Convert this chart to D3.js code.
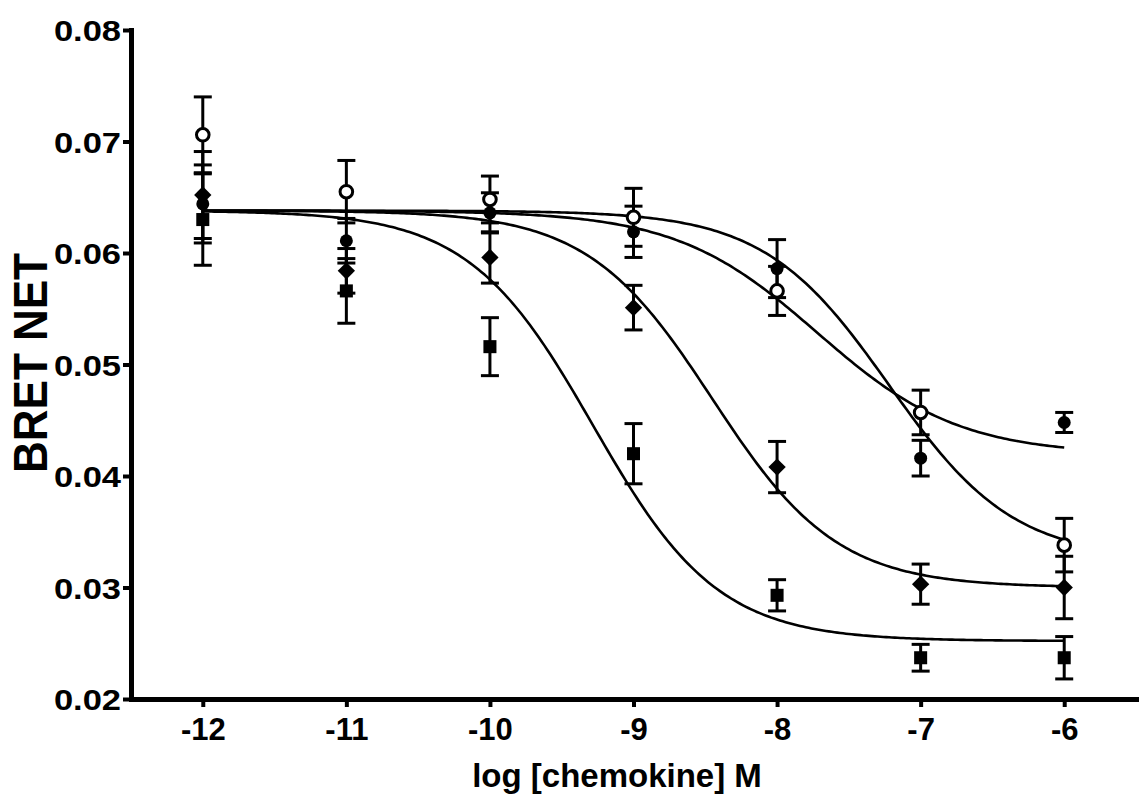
<!DOCTYPE html>
<html>
<head>
<meta charset="utf-8">
<script src="https://cdn.jsdelivr.net/npm/d3@7"></script>
<style>
  body { margin: 0; background: #fff; }
  svg { display: block; }
  text { font-family: "Liberation Sans", Arial, sans-serif; font-weight: bold; fill: #000; }
</style>
</head>
<body>
<svg width="1146" height="800"></svg>
<script>
// log concentrations (x) and the tick labels
const logConc = [-12, -11, -10, -9, -8, -7, -6];
const yTicks = [0.02, 0.03, 0.04, 0.05, 0.06, 0.07, 0.08];

// mean and SEM for each series
const openMean = [0.0706, 0.0655, 0.0648, 0.0632, 0.0566, 0.0457, 0.0338];
const openSem = [0.0034, 0.0028, 0.0021, 0.0026, 0.0022, 0.0020, 0.0024];
const filledMean = [0.0644, 0.0611, 0.0636, 0.0619, 0.0586, 0.0416, 0.0448];
const filledSem = [0.0035, 0.0020, 0.0018, 0.0023, 0.0026, 0.0016, 0.0009];
const diamondMean = [0.0652, 0.0584, 0.0596, 0.0551, 0.0408, 0.0303, 0.0300];
const diamondSem = [0.0039, 0.0020, 0.0023, 0.0020, 0.0023, 0.0018, 0.0028];
const squareMean = [0.0630, 0.0566, 0.0516, 0.0420, 0.0293, 0.0237, 0.0237];
const squareSem = [0.0041, 0.0029, 0.0026, 0.0027, 0.0014, 0.0012, 0.0019];

// sigmoid fit parameters: open, filled, diamond, square
const fitTop = [0.0638, 0.0638, 0.0638, 0.0638];
const fitBottom = [0.0325, 0.0419, 0.0300, 0.0252];
const fitLogIC50 = [-7.22, -7.72, -8.45, -9.28];
const fitHill = [1.0, 0.88, 1, 1];

const svg = d3.select("svg");

const x = d3.scaleLinear().domain([-12.5, -5.5]).range([131, 1136]);
const y = d3.scaleLinear().domain([0.02, 0.08]).range([699, 30]);

// fitted curves
const curveX = d3.range(-12, -5.999, 0.02);
const line = d3.line().x(d => x(d[0])).y(d => y(d[1]));
fitTop.forEach((top, i) => {
  const pts = curveX.map(v => [v, fitBottom[i] + (top - fitBottom[i]) / (1 + Math.pow(10, fitHill[i] * (v - fitLogIC50[i])))]);
  svg.append("path")
     .attr("d", line(pts))
     .attr("fill", "none")
     .attr("stroke", "#000")
     .attr("stroke-width", 2.6);
});

const series = [
  { mean: squareMean, sem: squareSem, shape: "square" },
  { mean: diamondMean, sem: diamondSem, shape: "diamond" },
  { mean: filledMean, sem: filledSem, shape: "filled" },
  { mean: openMean, sem: openSem, shape: "open" }
];

// error bars
series.forEach(s => {
  const g = svg.append("g").attr("stroke", "#000").attr("stroke-width", 3);
  logConc.forEach((c, i) => {
    const top = y(s.mean[i] + s.sem[i]), bot = y(s.mean[i] - s.sem[i]), cx = x(c);
    g.append("line").attr("x1", cx).attr("x2", cx).attr("y1", top).attr("y2", bot);
    g.append("line").attr("x1", cx - 9).attr("x2", cx + 9).attr("y1", top).attr("y2", top);
    g.append("line").attr("x1", cx - 9).attr("x2", cx + 9).attr("y1", bot).attr("y2", bot);
  });
});

// markers
series.forEach(s => {
  const g = svg.append("g");
  logConc.forEach((c, i) => {
    const cx = x(c), cy = y(s.mean[i]);
    if (s.shape === "square") {
      g.append("path").attr("d", d3.symbol(d3.symbolSquare, 170)())
       .attr("transform", `translate(${cx},${cy})`).attr("fill", "#000");
    } else if (s.shape === "diamond") {
      g.append("path").attr("d", d3.symbol(d3.symbolSquare, 150)())
       .attr("transform", `translate(${cx},${cy}) rotate(45)`).attr("fill", "#000");
    } else if (s.shape === "filled") {
      g.append("circle").attr("cx", cx).attr("cy", cy).attr("r", 6.5).attr("fill", "#000");
    } else {
      g.append("circle").attr("cx", cx).attr("cy", cy).attr("r", 6.3)
       .attr("fill", "#fff").attr("stroke", "#000").attr("stroke-width", 3);
    }
  });
});

// axes
const yAxis = svg.append("g")
  .attr("transform", "translate(131,0)")
  .call(d3.axisLeft(y).tickValues(yTicks).tickFormat(d3.format(".2f")).tickSize(8).tickSizeOuter(0).tickPadding(3));
const xAxis = svg.append("g")
  .attr("transform", "translate(0,699)")
  .call(d3.axisBottom(x).tickValues(logConc).tickFormat(d => d3.format("d")(d).replace("\u2212", "-")).tickSize(8).tickSizeOuter(0).tickPadding(8));

[yAxis, xAxis].forEach(a => {
  a.select(".domain").attr("stroke", "#000").attr("stroke-width", 5).attr("stroke-linecap", "square");
  a.selectAll(".tick line").attr("stroke", "#000").attr("stroke-width", 4);
});
yAxis.selectAll(".tick text").style("font-size", "30px").attr("dy", "0.36em")
  .attr("transform", "scale(1.15,1)").attr("x", -10 / 1.15);
xAxis.selectAll(".tick text").style("font-size", "31px").attr("dy", "0.8em");

svg.append("text")
   .attr("transform", "translate(47,363) rotate(-90) scale(1,1.08)")
   .attr("text-anchor", "middle")
   .style("font-size", "44px")
   .text("BRET NET");

svg.append("text")
   .attr("x", 617).attr("y", 787)
   .attr("text-anchor", "middle")
   .style("font-size", "33px")
   .text("log [chemokine] M");
</script>
</body>
</html>
